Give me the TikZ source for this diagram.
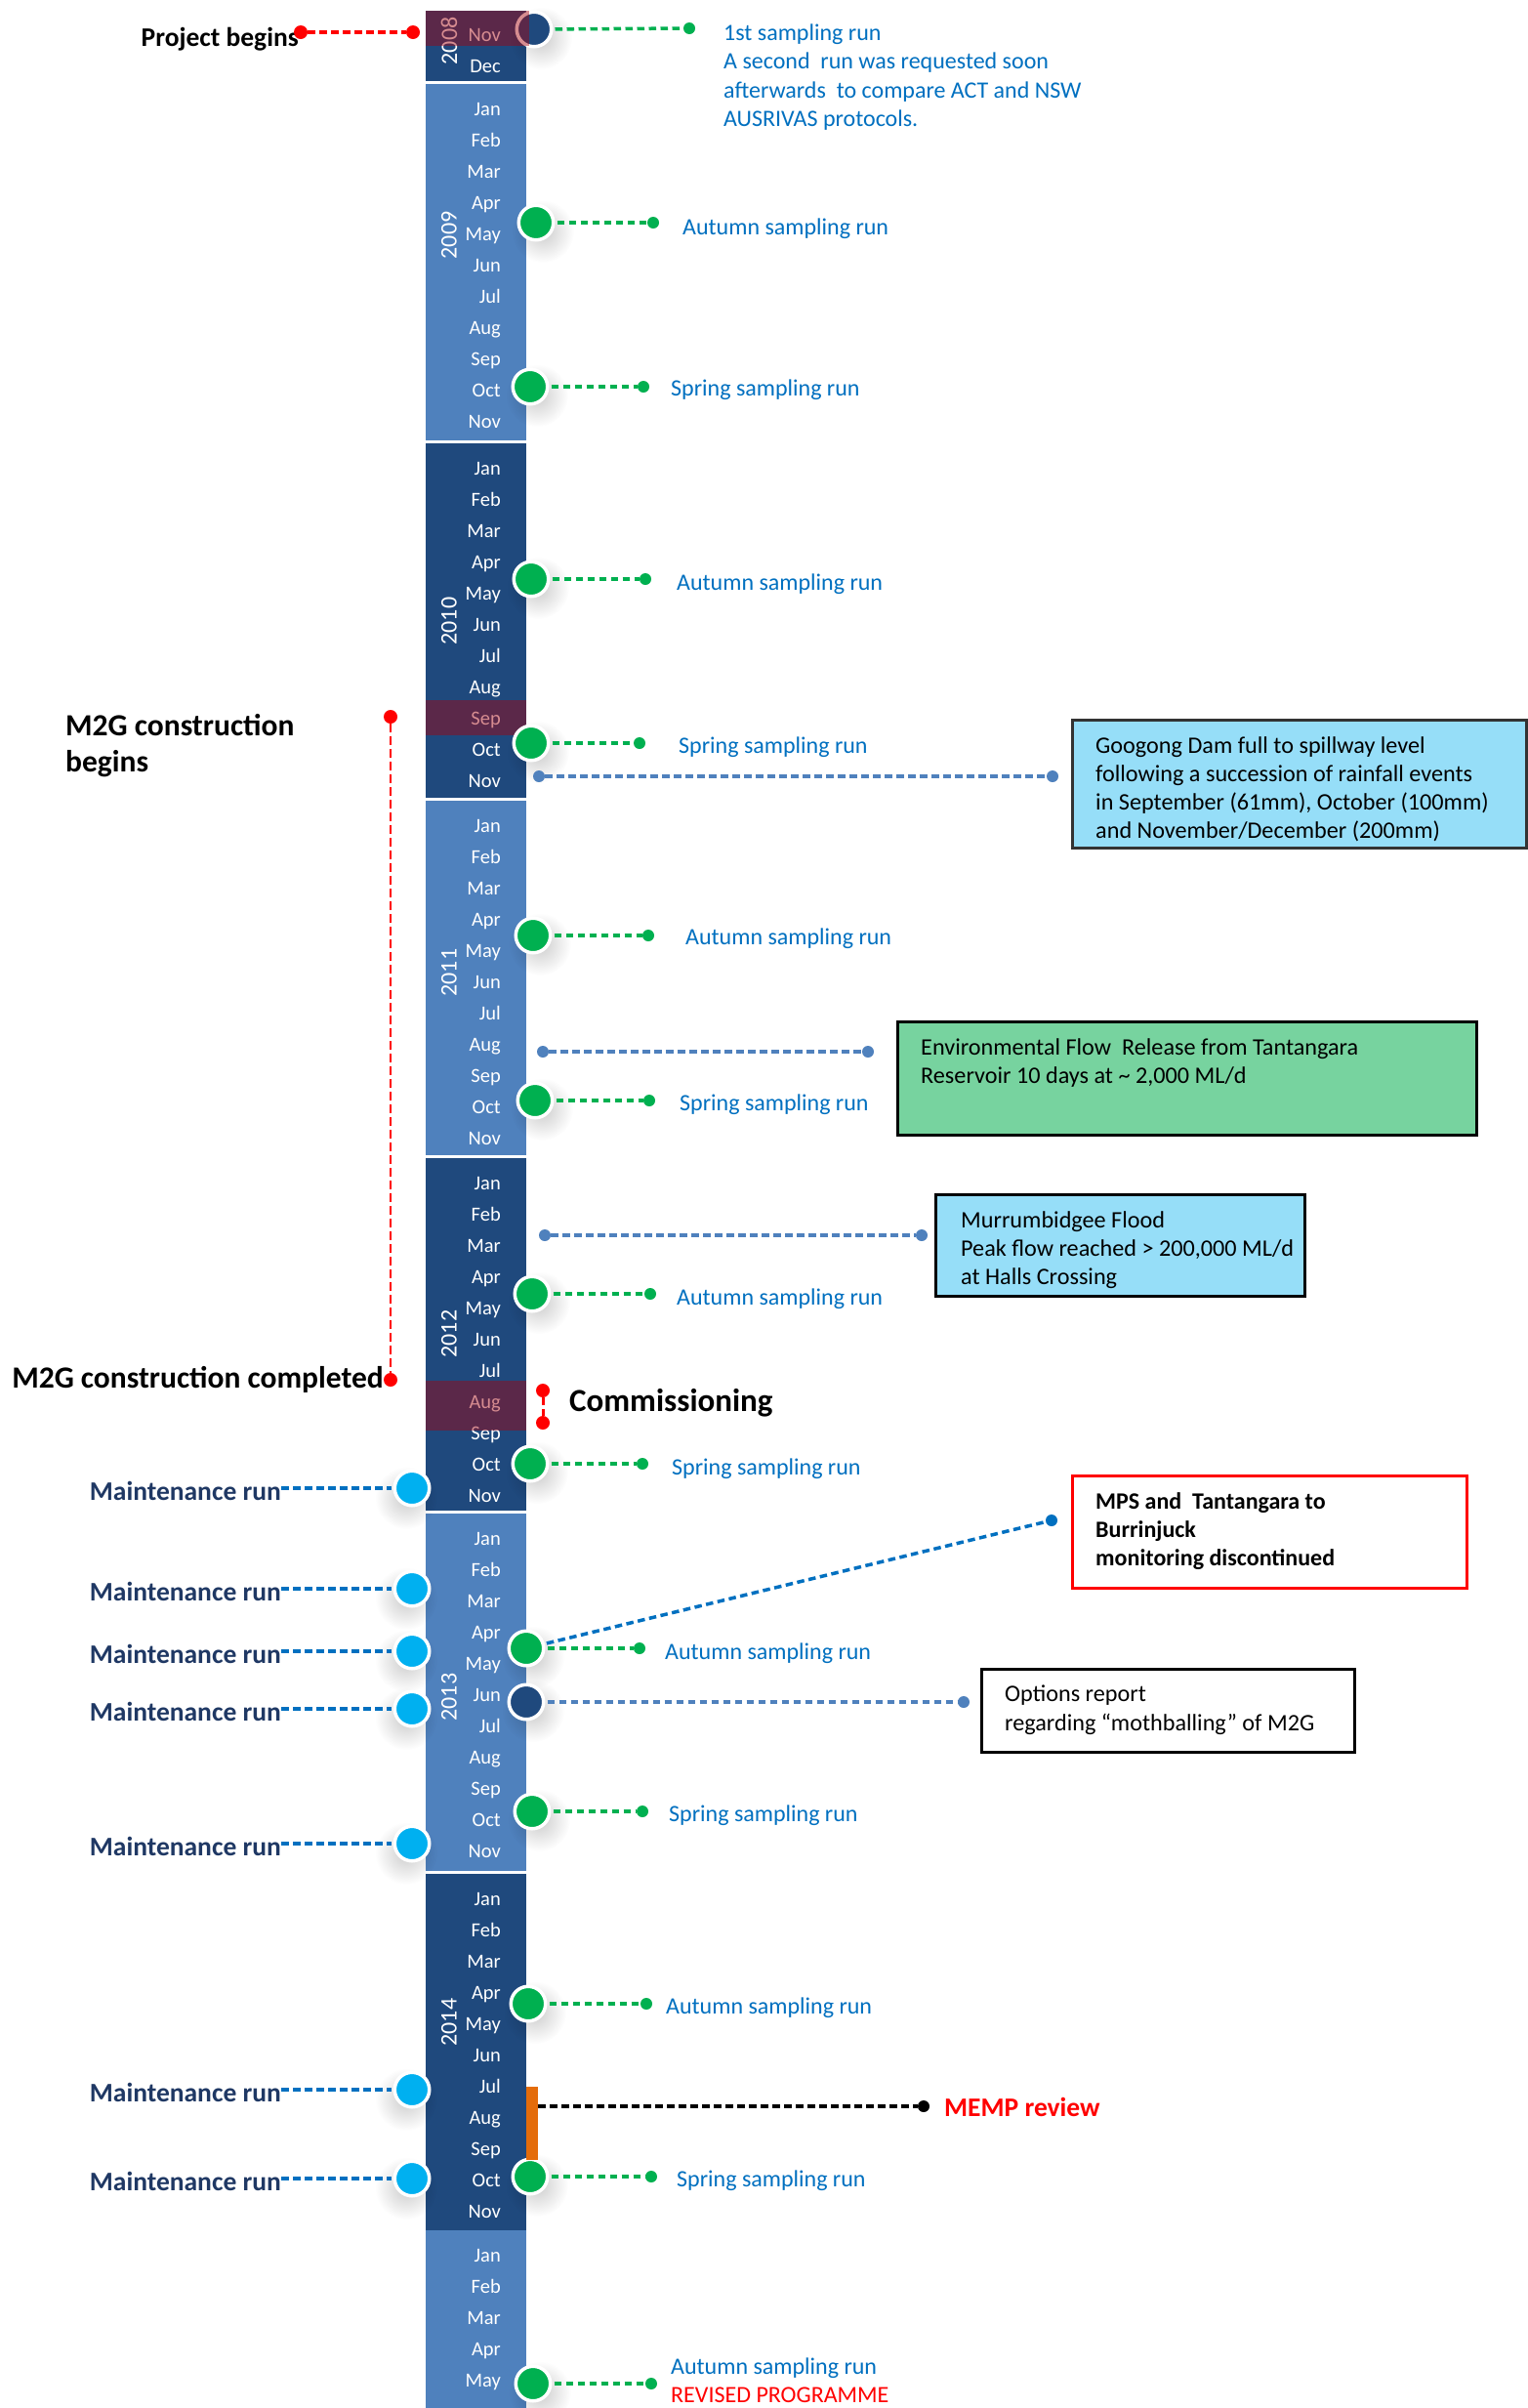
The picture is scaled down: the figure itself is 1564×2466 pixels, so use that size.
\documentclass[tikz,border=0pt]{standalone}
\usepackage{fontspec}
\setmainfont{Carlito}
\usepackage{tikz}
\usetikzlibrary{positioning, fadings}
\definecolor{navybar}{RGB}{31,73,125}
\definecolor{lightbar}{RGB}{79,129,189}
\definecolor{rungreen}{RGB}{0,176,80}
\definecolor{runblue}{RGB}{0,112,192}
\definecolor{maintblue}{RGB}{0,176,240}
\definecolor{maintnavy}{RGB}{31,56,100}
\definecolor{steelblue}{RGB}{79,129,189}
\definecolor{hilitered}{RGB}{165,0,10}
\definecolor{skyfill}{RGB}{150,222,248}
\definecolor{flowgreen}{RGB}{119,211,159}
\definecolor{mempor}{RGB}{228,108,10}
\tikzfading[name=softglow, inner color=transparent!80, outer color=transparent!100]

\begin{document}
\begin{tikzpicture}[x=1pt, y=-1pt,
    monthlbl/.style={anchor=east, inner sep=0pt, text=white, text height=13pt, text depth=0pt, font=\fontsize{20.5}{24}\selectfont},
    yearlbl/.style={rotate=90, inner sep=0pt, text=white, font=\fontsize{24}{28}\selectfont},
    evt/.style={circle, draw=white, line width=3.5pt, minimum size=35.5pt, inner sep=0pt},
    enddot/.style={circle, inner sep=0pt, minimum size=12pt},
    reddot/.style={enddot, fill=red, minimum size=14pt},
    dashlink/.style={line width=3.5pt, dash pattern=on 7.5pt off 4.5pt},
    greenline/.style={dashlink, rungreen, shorten <=2pt},
    runlbl/.style={anchor=west, inner sep=0pt, text=runblue, align=left, font=\fontsize{24}{29.3}\selectfont},
    maintlbl/.style={anchor=east, inner sep=0pt, text=maintnavy, font=\bfseries\fontsize{27.5}{33}\selectfont},
    event/.style={inner sep=0pt, text=black, align=left, font=\bfseries\fontsize{31.5}{37}\selectfont},
    infobox/.style={draw=black!80, line width=3pt, inner sep=0pt, anchor=north west},
    boxtext/.style={inner sep=0pt, align=left, font=\fontsize{24.2}{29.3}\selectfont},
    hilite/.style={fill=hilitered, fill opacity=0.45}
]
\fill[white] (0,0) rectangle (1564,2466);
\useasboundingbox (0,0) rectangle (1564,2466);

\fill[navybar] (436,11) rectangle (539,83);
\node[monthlbl] (m0-11) at (513,35.5) {Nov};
\node[monthlbl] (m0-12) at (513,67.5) {Dec};
\foreach \yt/\yb/\col [count=\k] in {86/451/lightbar, 454/817/navybar, 820/1183/lightbar, 1186/1547/navybar, 1550/1916/lightbar, 1919/2284/navybar}{
  \fill[\col] (436,\yt) rectangle (539,\yb);
  \foreach \mon [count=\i] in {Jan,Feb,Mar,Apr,May,Jun,Jul,Aug,Sep,Oct,Nov}
    \node[monthlbl] (m\k-\i) at (513,\yt+25.5+32*\i-32) {\mon};
}
\fill[lightbar] (436,2284) rectangle (539,2466);
\foreach \mon [count=\i] in {Jan,Feb,Mar,Apr,May}
  \node[monthlbl] (m7-\i) at (513,2309.5+32*\i-32) {\mon};

\foreach \yr/\yc in {2008/42, 2009/241, 2010/636, 2011/996, 2012/1366, 2013/1738, 2014/2071}
  \node[yearlbl] (y\yr) at (460,\yc) {\yr};

\fill[hilite] (436,717) rectangle (539,753);
\fill[hilite] (436,1414) rectangle (539,1465);

\foreach \nm/\cx/\cy/\dx/\tx/\ty/\sea in {
  a09/549/228/669/699/234/Autumn, s09/543/396/659/687/399/Spring,
  a10/544/593/661/693/598/Autumn, s10/544/761/655/695/765/Spring,
  a11/546/958/664/702/961/Autumn, s11/548/1127/665/696/1131/Spring,
  a12/545/1325/666/693/1330/Autumn, s12/543/1499/658/688/1504/Spring,
  a13/539/1688/655/681/1693/Autumn, s13/545/1855/658/685/1859/Spring,
  a14/541/2052/662/682/2056/Autumn, s14/543/2229/667/693/2233/Spring}{
  \fill[black, path fading=softglow] (\cx+7,\cy+9) circle (32pt);
  \node[evt, fill=rungreen] (\nm) at (\cx,\cy) {};
  \node[enddot, fill=rungreen] (\nm-d) at (\dx,\cy) {};
  \draw[greenline] (\nm) -- (\nm-d);
  \node[runlbl] (\nm-t) at (\tx,\ty) {\sea\ sampling run};
}

\fill[black, path fading=softglow] (553,2450) circle (32pt);
\node[evt, fill=rungreen] (a15) at (546,2441) {};
\node[enddot, fill=rungreen] (a15-d) at (667,2441) {};
\draw[greenline] (a15) -- (a15-d);
\node[runlbl] (a15-t) at (687,2438) {Autumn sampling run\\\textcolor{red}{REVISED PROGRAMME}};

\fill[black, path fading=softglow] (554,39) circle (32pt);
\node[evt, fill=navybar] (nov08) at (547,30) {};
\node[enddot, fill=rungreen] (nov08-d) at (706,29) {};
\draw[greenline] (nov08) -- (nov08-d);
\node[runlbl] (nov08-t) at (741,79) {1st sampling run\\A second\ \ run was requested soon\\afterwards\ \ to compare ACT and NSW\\AUSRIVAS protocols.};
\fill[hilite] (436,11) rectangle (542,47);

\fill[black, path fading=softglow] (546,1752) circle (32pt);
\node[evt, fill=navybar] (jun13) at (539,1743) {};
\node[enddot, fill=steelblue] (jun13-d) at (987,1743) {};
\draw[dashlink, steelblue, shorten <=2pt] (jun13) -- (jun13-d);

\node[enddot, fill=runblue] (mps-d) at (1077,1557) {};
\draw[dashlink, runblue, shorten <=2pt] (a13) -- (mps-d);

\node[enddot, fill=steelblue] (nov10-a) at (552,795) {};
\node[enddot, fill=steelblue] (nov10-b) at (1078,795) {};
\draw[dashlink, steelblue] (nov10-a) -- (nov10-b);
\node[enddot, fill=steelblue] (aug11-a) at (556,1077) {};
\node[enddot, fill=steelblue] (aug11-b) at (889,1077) {};
\draw[dashlink, steelblue] (aug11-a) -- (aug11-b);
\node[enddot, fill=steelblue] (feb12-a) at (558,1265) {};
\node[enddot, fill=steelblue] (feb12-b) at (944,1265) {};
\draw[dashlink, steelblue] (feb12-a) -- (feb12-b);

\foreach \cy [count=\j] in {1524,1627,1691,1750,1888,2140,2231}{
  \fill[black, path fading=softglow] (416,\cy+10) circle (32pt);
  \node[evt, fill=maintblue] (mr\j) at (422,\cy) {};
  \node[maintlbl] (mr\j-t) at (288,\cy+3) {Maintenance run};
  \draw[dashlink, runblue, shorten >=2pt] (mr\j-t.east |- mr\j) -- (mr\j);
}

\node[event, anchor=east, font=\bfseries\fontsize{27.5}{33}\selectfont] (pb-t) at (306,40) {Project begins};
\node[reddot] (pb-a) at (308,33) {};
\node[reddot] (pb-b) at (423,33) {};
\draw[dashlink, red] (pb-a) -- (pb-b);

\node[event, anchor=west] (m2g-t) at (67,764) {M2G construction\\begins};
\node[event, anchor=east] (m2g-c) at (393,1413) {M2G construction completed};
\node[reddot] (m2g-a) at (400,734) {};
\node[reddot] (m2g-b) at (400,1413) {};
\draw[dashlink, red, line width=2.5pt, dash pattern=on 9pt off 4pt] (m2g-a) -- (m2g-b);

\node[reddot] (com-a) at (556,1424) {};
\node[reddot] (com-b) at (556,1457) {};
\draw[dashlink, red, line width=3pt] (com-a) -- (com-b);
\node[event, anchor=west, font=\bfseries\fontsize{33}{39}\selectfont] (com-t) at (583,1437) {Commissioning};

\node[fill=mempor, inner sep=0pt, minimum width=12pt, minimum height=75pt, anchor=north west] (memp) at (539,2137) {};
\node[enddot, fill=black] (memp-d) at (946,2157) {};
\draw[dashlink, black] (memp-d -| memp.east) -- (memp-d);
\node[event, anchor=west, text=red, font=\bfseries\fontsize{27.5}{33}\selectfont] (memp-t) at (967,2158) {MEMP review};

\node[infobox, fill=skyfill, minimum width=465pt, minimum height=131pt] (googong) at (1097,736) {};
\node[boxtext, below right=18pt and 25pt of googong.north west] (googong-t) {Googong Dam full to spillway level\\following a succession of rainfall events\\in September (61mm), October (100mm)\\and November/December (200mm)};

\node[infobox, fill=flowgreen, draw=black, minimum width=593pt, minimum height=116pt] (envflow) at (918,1045) {};
\node[boxtext, below right=18pt and 25pt of envflow.north west] (envflow-t) {Environmental Flow\ \ Release from Tantangara\\Reservoir 10 days at \textasciitilde{} 2,000 ML/d};

\node[infobox, fill=skyfill, draw=black, minimum width=378pt, minimum height=104pt] (murrum) at (957,1222) {};
\node[boxtext, below right=18pt and 27pt of murrum.north west] (murrum-t) {Murrumbidgee Flood\\Peak flow reached > 200,000 ML/d\\at Halls Crossing};

\node[infobox, fill=white, draw=red, minimum width=404pt, minimum height=115pt] (mps) at (1097,1510) {};
\node[boxtext, font=\bfseries\fontsize{24}{29.3}\selectfont, below right=18pt and 25pt of mps.north west] (mps-t) {MPS and\ \ Tantangara to\\Burrinjuck\\monitoring discontinued};

\node[infobox, fill=white, draw=black, line width=2.5pt, minimum width=382pt, minimum height=85pt] (options) at (1004,1708) {};
\node[boxtext, below right=18pt and 25pt of options.north west] (options-t) {Options report\\regarding “mothballing” of M2G};
\end{tikzpicture}
\end{document}
